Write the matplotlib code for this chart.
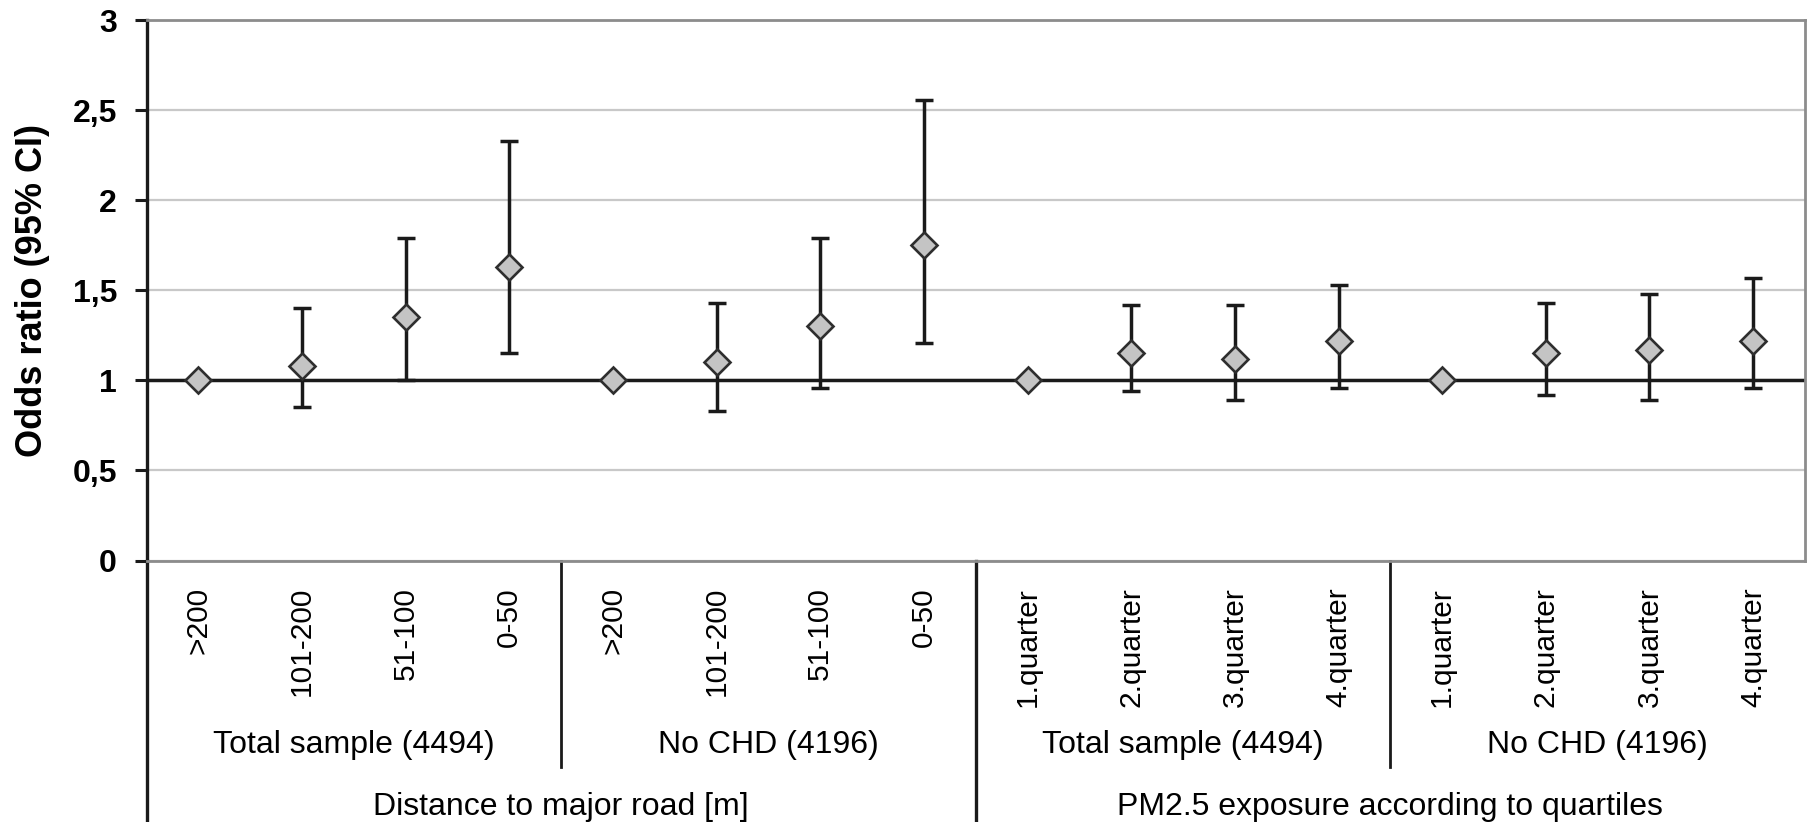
import numpy as np
import matplotlib.pyplot as plt
from matplotlib.transforms import blended_transform_factory

plt.rcParams['font.family'] = ['Liberation Sans', 'DejaVu Sans']

# data
tick_labels = ['>200', '101-200', '51-100', '0-50'] * 2 + \
              ['1.quarter', '2.quarter', '3.quarter', '4.quarter'] * 2
odds = [1.0, 1.08, 1.35, 1.63, 1.0, 1.10, 1.30, 1.75,
        1.0, 1.15, 1.12, 1.22, 1.0, 1.15, 1.17, 1.22]
ci_low = [np.nan, 0.85, 1.00, 1.15, np.nan, 0.83, 0.96, 1.21,
          np.nan, 0.94, 0.89, 0.96, np.nan, 0.92, 0.89, 0.96]
ci_high = [np.nan, 1.40, 1.79, 2.33, np.nan, 1.43, 1.79, 2.56,
           np.nan, 1.42, 1.42, 1.53, np.nan, 1.43, 1.48, 1.57]
sub_labels = ['Total sample (4494)', 'No CHD (4196)',
              'Total sample (4494)', 'No CHD (4196)']
sub_sizes = [4, 4, 4, 4]
group_labels = ['Distance to major road [m]',
                'PM2.5 exposure according to quartiles']
group_sizes = [8, 8]
yticks = [0, 0.5, 1, 1.5, 2, 2.5, 3]
ytick_labels = ['0', '0,5', '1', '1,5', '2', '2,5', '3']

fig = plt.figure(figsize=(18.1, 8.22), dpi=100)
ax_bottom = 0.3181
ax = fig.add_axes([0.081, ax_bottom, 0.9162, 0.6572])

x = np.arange(len(odds)) + 0.5
odds = np.array(odds)
lo = np.array(ci_low)
hi = np.array(ci_high)
has_ci = ~np.isnan(lo)

ax.axhline(1, color='#1a1a1a', lw=2.5, zorder=2)
ax.errorbar(x[has_ci], odds[has_ci],
            yerr=[odds[has_ci] - lo[has_ci], hi[has_ci] - odds[has_ci]],
            fmt='none', ecolor='#1a1a1a', elinewidth=2.5, capsize=6.2,
            capthick=2.5, zorder=3)
ax.plot(x, odds, linestyle='none', marker='D', markersize=13.5,
        markerfacecolor='#c4c4c4', markeredgecolor='#2e2e2e',
        markeredgewidth=1.9, zorder=4)

ax.set_xlim(0, len(odds))
ax.set_ylim(0, 3)
ax.set_yticks(yticks)
ax.set_yticklabels(ytick_labels, fontweight='bold')
ax.yaxis.grid(True, color='#c8c8c8', lw=1.6)
ax.set_axisbelow(True)
ax.tick_params(axis='y', length=8.4, width=2.2, color='#1a1a1a', pad=13,
               labelsize=23)

ax.set_xticks(x)
ax.set_xticklabels(tick_labels, rotation=90, fontsize=21.5)
ax.tick_params(axis='x', length=0, pad=19)

ax.set_ylabel('Odds ratio (95% CI)', fontsize=26, fontweight='bold',
              va='center')
ax.yaxis.set_label_coords(-0.0688, 0.5)

for side in ['top', 'bottom', 'right']:
    ax.spines[side].set_color('#8c8c8c')
    ax.spines[side].set_linewidth(2.0)
ax.spines['left'].set_color('#1a1a1a')
ax.spines['left'].set_linewidth(2.4)

trans = blended_transform_factory(ax.transData, fig.transFigure)
sub_line_bottom = 1 - 766.7 / 822
sub_text_y = 1 - 745 / 822
group_text_y = 1 - 806.7 / 822

# sub-group separators and labels
start = 0
for lab, n in zip(sub_labels, sub_sizes):
    ax.text(start + n / 2, sub_text_y, lab, transform=trans, ha='center',
            va='center', fontsize=23)
    start += n
    if start < len(odds):
        ax.plot([start, start], [ax_bottom, sub_line_bottom], transform=trans,
                color='#1a1a1a', lw=2.0, clip_on=False)

# group separators and labels
start = 0
ax.plot([0, 0], [ax_bottom, 0], transform=trans, color='#1a1a1a', lw=2.4,
        clip_on=False)
for lab, n in zip(group_labels, group_sizes):
    ax.text(start + n / 2, group_text_y, lab, transform=trans, ha='center',
            va='center', fontsize=23)
    start += n
    if start < len(odds):
        ax.plot([start, start], [ax_bottom, 0], transform=trans,
                color='#1a1a1a', lw=2.4, clip_on=False)

fig.savefig('out.png', dpi=100)
